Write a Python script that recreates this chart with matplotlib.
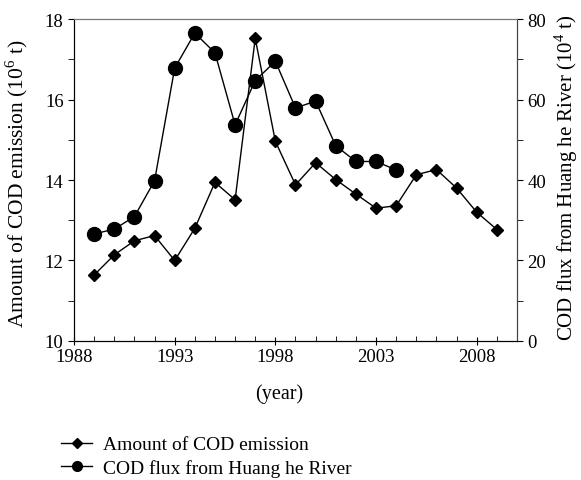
import matplotlib
matplotlib.use("Agg")
import matplotlib.pyplot as plt
from matplotlib.ticker import MultipleLocator
from matplotlib.lines import Line2D

plt.rcParams['font.family'] = ['Liberation Serif', 'DejaVu Serif']
plt.rcParams['mathtext.fontset'] = 'custom'
plt.rcParams['mathtext.rm'] = 'Liberation Serif'

emission_years = list(range(1989, 2010))
emission = [11.64, 12.14, 12.49, 12.62, 12.0, 12.8, 13.94, 13.51, 17.52, 14.96,
            13.88, 14.43, 14.01, 13.65, 13.30, 13.36, 14.13, 14.26, 13.80, 13.20, 12.77]

flux_years = list(range(1989, 2005))
flux = [26.6, 27.8, 30.9, 39.8, 67.8, 76.5, 71.6, 53.7, 64.7, 69.5,
        57.9, 59.6, 48.5, 44.6, 44.6, 42.5]

xticks = [1988, 1993, 1998, 2003, 2008]
label_emission = "Amount of COD emission"
label_flux = "COD flux from Huang he River"

fig = plt.figure(figsize=(5.81, 4.81), dpi=100)
ax = fig.add_axes([0.1274, 0.289, 0.7624, 0.6694])
ax2 = ax.twinx()

ax.plot(emission_years, emission, color='black', lw=1.0, marker='D', ms=6.5, zorder=3)
ax2.plot(flux_years, flux, color='black', lw=1.0, marker='o', ms=10, zorder=3)

ax.set_xlim(1988, 2010)
ax.set_ylim(10, 18)
ax2.set_ylim(0, 80)
ax.set_xticks(xticks)
ax.xaxis.set_minor_locator(MultipleLocator(1))
ax.yaxis.set_major_locator(MultipleLocator(2))
ax.yaxis.set_minor_locator(MultipleLocator(1))
ax2.yaxis.set_major_locator(MultipleLocator(20))
ax2.yaxis.set_minor_locator(MultipleLocator(10))

fs = 13.5
ax.tick_params(axis='x', which='major', direction='inout', length=6, labelsize=fs, pad=2)
ax.tick_params(axis='x', which='minor', direction='in', length=3.5)
ax.tick_params(axis='y', which='both', direction='out', length=4, labelsize=fs)
ax2.tick_params(axis='y', which='both', direction='out', length=4, labelsize=fs)

for a in (ax, ax2):
    a.spines['top'].set_color('#777777')
    a.spines['right'].set_color('#444444')

ax.set_ylabel("Amount of COD emission (10$^{6}$ t)", fontsize=15.5)
ax2.set_ylabel("COD flux from Huang he River (10$^{4}$ t)", fontsize=15)
ax.set_xlabel("(year)", fontsize=14.5)
ax.yaxis.set_label_coords(-0.099, 0.49)
ax2.yaxis.set_label_coords(1.08, 0.51)
ax.xaxis.set_label_coords(0.463, -0.13)

handles = [Line2D([], [], color='black', lw=1.0, marker='D', ms=5),
           Line2D([], [], color='black', lw=1.0, marker='o', ms=7)]
fig.legend(handles, [label_emission, label_flux], loc='upper left',
           bbox_to_anchor=(0.105, 0.092), frameon=False, fontsize=14,
           handlelength=1.6, handletextpad=0.55, labelspacing=0.3,
           borderaxespad=0, borderpad=0)

fig.savefig("out.png", dpi=100)
